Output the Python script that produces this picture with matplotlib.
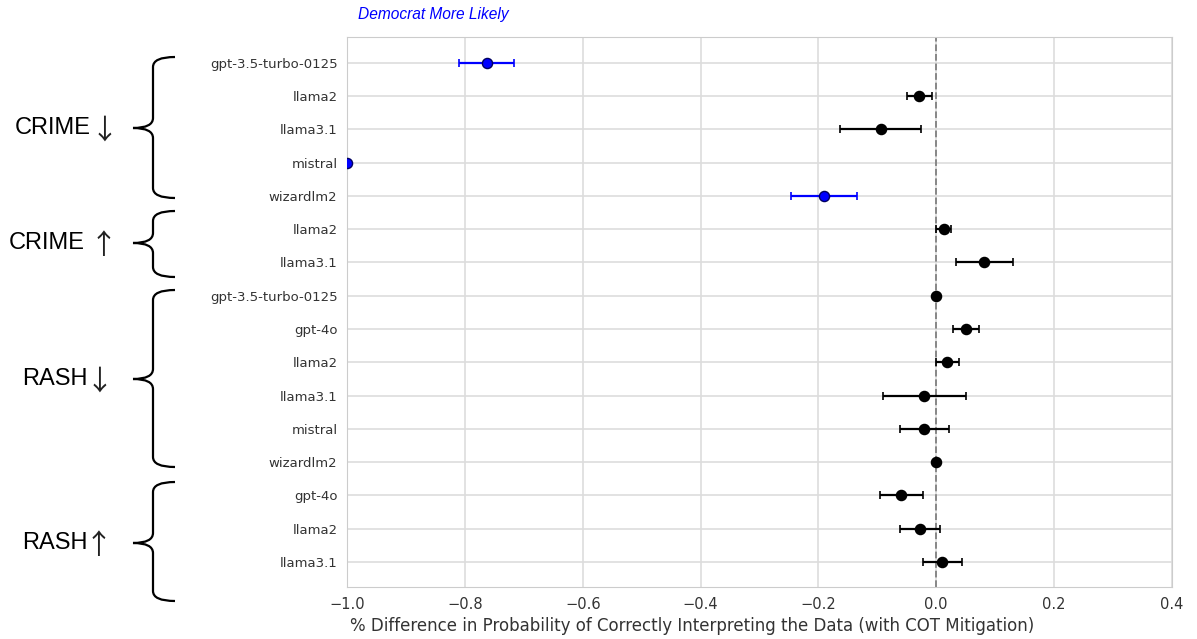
import matplotlib
matplotlib.use("Agg")
import matplotlib.pyplot as plt
import seaborn as sns
from matplotlib.path import Path
from matplotlib.patches import PathPatch

sns.set_style("whitegrid")
plt.rcParams['font.family'] = ['DejaVu Sans']

# data, top row first
models = ["gpt-3.5-turbo-0125", "llama2", "llama3.1", "mistral", "wizardlm2",
          "llama2", "llama3.1",
          "gpt-3.5-turbo-0125", "gpt-4o", "llama2", "llama3.1", "mistral", "wizardlm2",
          "gpt-4o", "llama2", "llama3.1"]
diff = [-0.762, -0.029, -0.094, -1.0, -0.19,
        0.013, 0.081,
        0.0, 0.051, 0.019, -0.020, -0.020, 0.0,
        -0.059, -0.028, 0.010]
ci_low = [-0.81, -0.049, -0.164, -1.0, -0.247,
          0.0, 0.034,
          0.0, 0.029, 0.0, -0.09, -0.061, 0.0,
          -0.096, -0.062, -0.023]
ci_high = [-0.716, -0.008, -0.025, -1.0, -0.134,
           0.025, 0.130,
           0.0, 0.072, 0.039, 0.051, 0.021, 0.0,
           -0.023, 0.006, 0.044]
blue_rows = [0, 3, 4]

groups = ["CRIME", "CRIME", "RASH", "RASH"]
group_arrows = ["\u2193", "\u2191", "\u2193", "\u2191"]

fig = plt.figure(figsize=(11.97, 6.39), dpi=100)
ax = fig.add_axes([0.290, 0.0815, 0.689, 0.861])

for i in range(len(models)):
    c = "blue" if i in blue_rows else "black"
    ax.errorbar(diff[i], i, xerr=[[diff[i] - ci_low[i]], [ci_high[i] - diff[i]]],
                fmt="o", color=c, ecolor=c, markeredgecolor="black" if c == "black" else "#000060",
                markersize=7.3, capsize=3, elinewidth=1.6, capthick=1.2, zorder=3)

ax.axvline(0, color="gray", linestyle="--", linewidth=1.3, zorder=2)
ax.set_xlim(-1.0, 0.4)
ax.set_ylim(15.75, -0.78)
ax.set_yticks(range(len(models)))
ax.set_yticklabels(models, fontsize=9.5, color="#333333")
ax.set_xticks([-1.0, -0.8, -0.6, -0.4, -0.2, 0.0, 0.2, 0.4])
ax.tick_params(axis="x", labelsize=10.5, colors="#333333")
ax.set_xlabel("% Difference in Probability of Correctly Interpreting the Data (with COT Mitigation)",
              fontsize=12, color="#333333")
ax.xaxis.set_label_coords(0.418, -0.054)
for s in ax.spines.values():
    s.set_color("#cccccc")
ax.grid(color="#dddddd", linewidth=1.2)

fig.text(358 / 1197, 1 - 15 / 639, "Democrat More Likely", color="blue", style="italic",
         fontsize=11.2, family="Liberation Sans", va="center", ha="left")


# curly braces drawn in figure pixel coordinates
def brace(y0, y1, ym, x_tip=133, x_bar=153, x_end=175):
    W, H = 1197.0, 639.0
    r = 10
    pts = [(x_end, y0), (x_bar, y0), (x_bar, y0 + r),
           (x_bar, ym - r), (x_bar, ym), (x_tip, ym),
           (x_bar, ym), (x_bar, ym + r),
           (x_bar, y1 - r), (x_bar, y1), (x_end, y1)]
    codes = [Path.MOVETO, Path.CURVE3, Path.CURVE3,
             Path.LINETO, Path.CURVE3, Path.CURVE3,
             Path.CURVE3, Path.CURVE3,
             Path.LINETO, Path.CURVE3, Path.CURVE3]
    verts = [(x / W, 1 - y / H) for x, y in pts]
    fig.patches.append(PathPatch(Path(verts, codes), transform=fig.transFigure,
                                 fill=False, lw=1.6, color="black"))


brace_spans = [(57, 198, 128), (211, 277, 243), (290, 467, 379), (482, 601, 543)]
text_x = [15, 9, 22, 22]
arrow_x = [104, 103, 99, 98]
for (y0, y1, ym), g, a, tx, axp in zip(brace_spans, groups, group_arrows, text_x, arrow_x):
    brace(y0, y1, ym)
    fig.text(tx / 1197, 1 - ym / 639, g, fontsize=17, family="Liberation Sans",
             ha="left", va="center", color="black")
    fig.text(axp / 1197, 1 - (ym + 3) / 639, a, fontsize=20, family="Noto Sans CJK JP",
             ha="center", va="center", color="#222222")

fig.savefig("out.png", dpi=100)
